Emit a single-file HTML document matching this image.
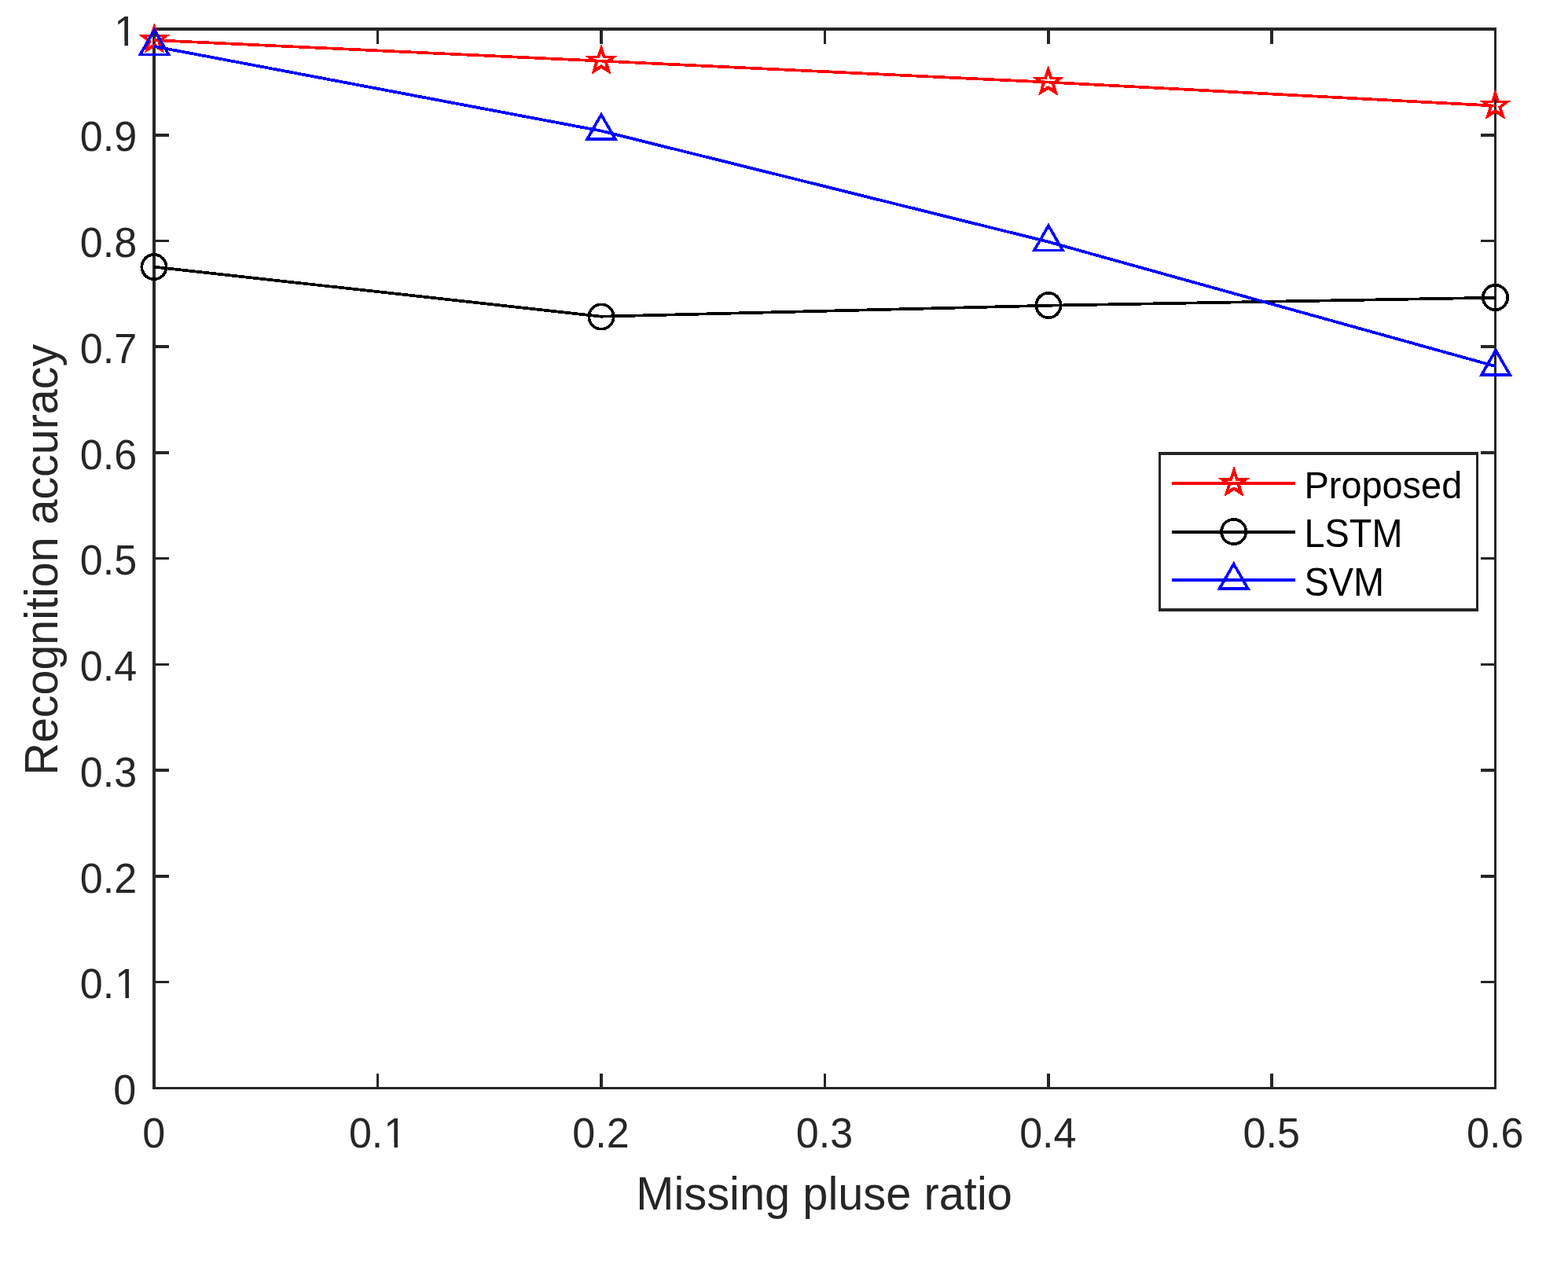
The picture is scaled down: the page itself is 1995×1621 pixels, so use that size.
<!DOCTYPE html>
<html lang="en"><head><meta charset="utf-8"><title>Recognition accuracy vs missing pluse ratio</title>
<style>
html,body{margin:0;padding:0;background:#fff;}
body{width:1995px;height:1621px;overflow:hidden;}
svg{display:block;}
text{font-family:"Liberation Sans",Arial,Helvetica,sans-serif;}
.tk{font-size:52.1px;fill:#262626;}
.lb{font-size:57.8px;fill:#262626;}
.lg{font-size:46.9px;fill:#000;}
.ax{fill:#262626;}
.ln{fill:none;stroke-linecap:butt;stroke-linejoin:miter;}
.mk{fill:none;stroke-width:3.7;stroke-linejoin:miter;stroke-miterlimit:10;}
.st{stroke:none;fill-rule:evenodd;}
</style></head><body>
<svg xmlns="http://www.w3.org/2000/svg" width="1995" height="1621" viewBox="0 0 1995 1621">
<defs>
<clipPath id="c1"><path clip-rule="evenodd" d="M-20 -70H120V30H-20ZM2.47 -5.09H13.10V6H2.47ZM17.71 -5.09H27.93V6H17.71Z"/></clipPath>
<clipPath id="c01"><path clip-rule="evenodd" d="M-20 -70H120V30H-20ZM46.92 -5.09H57.55V6H46.92ZM62.16 -5.09H72.38V6H62.16Z"/></clipPath>
</defs>
<rect x="0" y="0" width="1995" height="1621" fill="#ffffff"/>
<g class="ax" shape-rendering="crispEdges">
<rect x="194" y="35" width="1710" height="4"/>
<rect x="194" y="1383" width="1710" height="3"/>
<rect x="194" y="35" width="4" height="1351"/>
<rect x="1901" y="35" width="3" height="1351"/>
<rect x="198" y="1248" width="17" height="3"/>
<rect x="1884" y="1248" width="17" height="3"/>
<rect x="198" y="1113" width="17" height="4"/>
<rect x="1884" y="1113" width="17" height="4"/>
<rect x="198" y="978" width="17" height="4"/>
<rect x="1884" y="978" width="17" height="4"/>
<rect x="198" y="844" width="17" height="3"/>
<rect x="1884" y="844" width="17" height="3"/>
<rect x="198" y="709" width="17" height="3"/>
<rect x="1884" y="709" width="17" height="3"/>
<rect x="198" y="574" width="17" height="4"/>
<rect x="1884" y="574" width="17" height="4"/>
<rect x="198" y="439" width="17" height="4"/>
<rect x="1884" y="439" width="17" height="4"/>
<rect x="198" y="305" width="17" height="3"/>
<rect x="1884" y="305" width="17" height="3"/>
<rect x="198" y="170" width="17" height="4"/>
<rect x="1884" y="170" width="17" height="4"/>
<rect x="479" y="39" width="3" height="17"/>
<rect x="479" y="1366" width="3" height="17"/>
<rect x="763" y="39" width="4" height="17"/>
<rect x="763" y="1366" width="4" height="17"/>
<rect x="1048" y="39" width="3" height="17"/>
<rect x="1048" y="1366" width="3" height="17"/>
<rect x="1332" y="39" width="4" height="17"/>
<rect x="1332" y="1366" width="4" height="17"/>
<rect x="1616" y="39" width="4" height="17"/>
<rect x="1616" y="1366" width="4" height="17"/>
</g>
<g class="tk">
<text transform="translate(144.22 1405.10) scale(1 1.035)">0</text>
<text transform="translate(101.87 1270.35) scale(1 1.035)" clip-path="url(#c01)">0.<tspan dx="1.0">1</tspan></text>
<text transform="translate(101.87 1135.60) scale(1 1.035)">0.2</text>
<text transform="translate(101.87 1000.85) scale(1 1.035)">0.3</text>
<text transform="translate(101.87 866.10) scale(1 1.035)">0.4</text>
<text transform="translate(101.87 731.35) scale(1 1.035)">0.5</text>
<text transform="translate(101.87 596.60) scale(1 1.035)">0.6</text>
<text transform="translate(101.87 461.85) scale(1 1.035)">0.7</text>
<text transform="translate(101.87 327.10) scale(1 1.035)">0.8</text>
<text transform="translate(101.87 192.35) scale(1 1.035)">0.9</text>
<text transform="translate(145.32 57.60) scale(1 1.035)" clip-path="url(#c1)">1</text>
<text transform="translate(181.21 1459.70) scale(1 1.035)">0</text>
<text transform="translate(443.90 1459.70) scale(1 1.035)" clip-path="url(#c01)">0.<tspan dx="1.0">1</tspan></text>
<text transform="translate(728.32 1459.70) scale(1 1.035)">0.2</text>
<text transform="translate(1012.74 1459.70) scale(1 1.035)">0.3</text>
<text transform="translate(1297.15 1459.70) scale(1 1.035)">0.4</text>
<text transform="translate(1581.57 1459.70) scale(1 1.035)">0.5</text>
<text transform="translate(1865.99 1459.70) scale(1 1.035)">0.6</text>
</g>
<g class="lb">
<text transform="translate(1048.6 1539.2) scale(1 1.03)" text-anchor="middle">Missing pluse ratio</text>
<text transform="translate(73.2 712.2) rotate(-90) scale(1 1.03)" text-anchor="middle" style="font-size:57.4px">Recognition accuracy</text>
</g>
<g shape-rendering="crispEdges">
<polyline class="ln" stroke="#ff0000" stroke-width="3.69" points="196.00,51.10 765.00,77.63 1333.80,104.60 1903.30,134.66"/>
<path class="st" fill="#ff0000" d="M195.81 30.00L196.79 30.00L201.24 43.70L215.65 43.70L215.95 44.63L204.48 53.16L208.74 66.80L207.96 67.37L196.30 59.80L184.90 67.19L183.95 66.50L188.12 53.16L176.65 44.63L176.95 43.70L191.36 43.70ZM195.96 41.50L196.64 41.50L198.56 47.39L205.87 47.39L199.95 51.69L202.03 58.08L201.74 58.29L196.30 55.10L190.39 58.64L192.65 51.69L186.73 47.39L194.04 47.39Z"/>
<path class="st" fill="#ff0000" d="M764.51 57.10L765.49 57.10L769.94 70.80L784.35 70.80L784.65 71.73L773.18 80.26L777.44 93.90L776.66 94.47L765.00 86.90L753.60 94.29L752.65 93.60L756.82 80.26L745.35 71.73L745.65 70.80L760.06 70.80ZM764.66 68.60L765.34 68.60L767.26 74.49L774.57 74.49L768.65 78.79L770.73 85.18L770.44 85.39L765.00 82.20L759.09 85.74L761.35 78.79L755.43 74.49L762.74 74.49Z"/>
<path class="st" fill="#ff0000" d="M1333.21 84.00L1334.19 84.00L1338.64 97.70L1353.05 97.70L1353.35 98.63L1341.88 107.16L1346.14 120.80L1345.36 121.37L1333.70 113.80L1322.30 121.19L1321.35 120.50L1325.52 107.16L1314.05 98.63L1314.35 97.70L1328.76 97.70ZM1333.36 95.50L1334.04 95.50L1335.96 101.39L1343.27 101.39L1337.35 105.69L1339.43 112.08L1339.14 112.29L1333.70 109.10L1327.79 112.64L1330.05 105.69L1324.13 101.39L1331.44 101.39Z"/>
<path class="st" fill="#ff0000" d="M1902.01 113.90L1902.99 113.90L1907.44 127.60L1921.85 127.60L1922.15 128.53L1910.68 137.06L1914.94 150.70L1914.16 151.27L1902.50 143.70L1891.10 151.09L1890.15 150.40L1894.32 137.06L1882.85 128.53L1883.15 127.60L1897.56 127.60ZM1902.16 125.40L1902.84 125.40L1904.76 131.29L1912.07 131.29L1906.15 135.59L1908.23 141.98L1907.94 142.19L1902.50 139.00L1896.59 142.54L1898.85 135.59L1892.93 131.29L1900.24 131.29Z"/>
<polyline class="ln" stroke="#000000" stroke-width="3.75" points="196.00,339.62 765.00,402.68 1333.80,388.72 1903.30,378.68"/>
<circle class="mk" stroke="#000000" cx="196.00" cy="339.60" r="15.65"/>
<circle class="mk" stroke="#000000" cx="765.00" cy="403.00" r="15.65"/>
<circle class="mk" stroke="#000000" cx="1334.00" cy="388.50" r="15.65"/>
<circle class="mk" stroke="#000000" cx="1902.50" cy="378.50" r="15.65"/>
<polyline class="ln" stroke="#0000ff" stroke-width="3.8" points="196.00,59.00 765.00,166.60 1333.80,307.70 1903.30,466.20"/>
<polygon class="mk" stroke="#0000ff" points="196.45,38.15 214.51,69.42 178.39,69.42"/>
<polygon class="mk" stroke="#0000ff" points="765.00,145.95 783.06,177.23 746.94,177.23"/>
<polygon class="mk" stroke="#0000ff" points="1334.00,287.15 1352.06,318.43 1315.94,318.43"/>
<polygon class="mk" stroke="#0000ff" points="1903.05,445.65 1921.11,476.93 1884.99,476.93"/>
</g>
<g shape-rendering="crispEdges">
<rect x="1474" y="575" width="407" height="203" fill="#ffffff"/>
<g class="ax">
<rect x="1474" y="575" width="407" height="4"/>
<rect x="1474" y="774" width="407" height="4"/>
<rect x="1474" y="575" width="3" height="203"/>
<rect x="1878" y="575" width="3" height="203"/>
</g>
<rect x="1491" y="613" width="157" height="4" fill="#ff0000"/>
<path class="st" fill="#ff0000" d="M1569.51 594.20L1570.49 594.20L1574.94 607.90L1589.35 607.90L1589.65 608.83L1578.18 617.36L1582.44 631.00L1581.66 631.57L1570.00 624.00L1558.60 631.39L1557.65 630.70L1561.82 617.36L1550.35 608.83L1550.65 607.90L1565.06 607.90ZM1569.66 605.70L1570.34 605.70L1572.26 611.59L1579.57 611.59L1573.65 615.89L1575.73 622.28L1575.44 622.49L1570.00 619.30L1564.09 622.84L1566.35 615.89L1560.43 611.59L1567.74 611.59Z"/>
<rect x="1491" y="675" width="157" height="4" fill="#000000"/>
<circle class="mk" stroke="#000000" cx="1569.70" cy="676.50" r="15.65"/>
<rect x="1491" y="736" width="157" height="4" fill="#0000ff"/>
<polygon class="mk" stroke="#0000ff" points="1569.70,717.65 1587.76,748.92 1551.64,748.92"/>
</g>
<g class="lg">
<text transform="translate(1659.5 633.9) scale(1 1.02)">Proposed</text>
<text transform="translate(1659.5 696.0) scale(1 1.055)">LSTM</text>
<text transform="translate(1659.5 757.7) scale(1 1.055)">SVM</text>
</g>
</svg>
</body></html>
